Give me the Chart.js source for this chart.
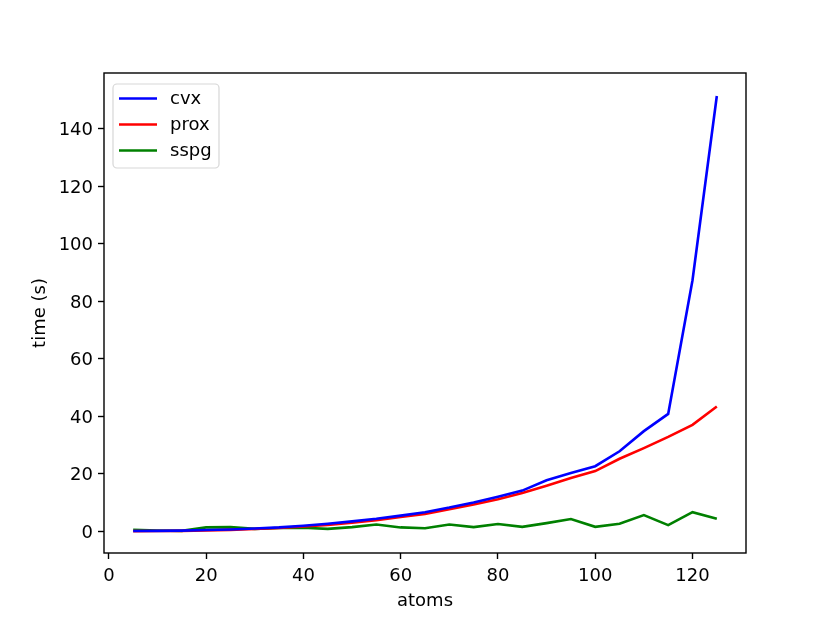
<!DOCTYPE html>
<html>
<head>
<meta charset="utf-8">
<script src="https://cdn.jsdelivr.net/npm/chart.js@4/dist/chart.umd.min.js"></script>
<style>
  html, body { margin: 0; padding: 0; background: #fff; }
  canvas { display: block; }
</style>
</head>
<body>
<canvas id="chart" width="830" height="623"></canvas>
<script>
// --- Data ---
const atoms = [5, 10, 15, 20, 25, 30, 35, 40, 45, 50, 55, 60, 65, 70, 75, 80, 85, 90, 95, 100, 105, 110, 115, 120, 125];
const cvxTimes = [0.05, 0.1, 0.2, 0.4, 0.6, 0.9, 1.3, 1.9, 2.6, 3.4, 4.3, 5.4, 6.6, 8.2, 10.0, 12.0, 14.1, 17.7, 20.2, 22.6, 27.8, 34.8, 40.8, 87.3, 151.4];
const proxTimes = [0.0, 0.05, 0.1, 0.25, 0.45, 0.75, 1.1, 1.6, 2.2, 2.9, 3.8, 4.9, 6.0, 7.6, 9.3, 11.1, 13.3, 15.8, 18.5, 20.9, 25.2, 28.9, 32.8, 37.0, 43.4];
const sspgTimes = [0.5, 0.25, 0.1, 1.3, 1.4, 0.8, 1.1, 1.2, 0.8, 1.4, 2.3, 1.3, 1.0, 2.3, 1.4, 2.5, 1.5, 2.8, 4.2, 1.5, 2.6, 5.6, 2.1, 6.6, 4.3];
const xTicks = [0, 20, 40, 60, 80, 100, 120];
const yTicks = [0, 20, 40, 60, 80, 100, 120, 140];

const FONT = 'DejaVu Sans';

function toPoints(ys) {
    return atoms.map((x, i) => ({ x: x, y: ys[i] }));
}

// --- Plugins: full frame + matplotlib style legend ---
const framePlugin = {
    id: 'frame',
    afterDatasetsDraw(chart) {
        const { ctx, chartArea: a } = chart;
        ctx.save();
        ctx.strokeStyle = '#000';
        ctx.lineWidth = 1.4;
        ctx.strokeRect(a.left, a.top, a.right - a.left, a.bottom - a.top);
        ctx.restore();
    }
};

const legendBoxPlugin = {
    id: 'legendBox',
    afterDraw(chart) {
        const { ctx, chartArea: a } = chart;
        const x = a.left + 9, y = a.top + 11, w = 106, h = 84, r = 4;
        ctx.save();
        ctx.beginPath();
        ctx.roundRect(x, y, w, h, r);
        ctx.fillStyle = 'rgba(255,255,255,0.8)';
        ctx.fill();
        ctx.strokeStyle = 'rgba(204,204,204,0.8)';
        ctx.lineWidth = 1.2;
        ctx.stroke();
        ctx.font = '18px "' + FONT + '"';
        ctx.textBaseline = 'middle';
        chart.data.datasets.forEach((ds, i) => {
            const ly = y + 14.5 + i * 26;
            ctx.beginPath();
            ctx.moveTo(x + 6, ly);
            ctx.lineTo(x + 44, ly);
            ctx.strokeStyle = ds.borderColor;
            ctx.lineWidth = ds.borderWidth;
            ctx.stroke();
            ctx.fillStyle = '#000';
            ctx.fillText(ds.label, x + 57, ly + 1);
        });
        ctx.restore();
    }
};

const ctx = document.getElementById('chart').getContext('2d');
new Chart(ctx, {
    type: 'line',
    data: {
        datasets: [
            { label: 'cvx', data: toPoints(cvxTimes), borderColor: '#0000ff', borderWidth: 2.6, pointRadius: 0, fill: false, tension: 0 },
            { label: 'prox', data: toPoints(proxTimes), borderColor: '#ff0000', borderWidth: 2.6, pointRadius: 0, fill: false, tension: 0 },
            { label: 'sspg', data: toPoints(sspgTimes), borderColor: '#008000', borderWidth: 2.6, pointRadius: 0, fill: false, tension: 0 }
        ]
    },
    options: {
        responsive: false,
        animation: false,
        devicePixelRatio: 1,
        layout: { padding: { top: 73, right: 84, left: 0, bottom: 0 } },
        plugins: { legend: { display: false }, tooltip: { enabled: false } },
        scales: {
            x: {
                type: 'linear',
                min: -1,
                max: 131,
                afterBuildTicks: scale => { scale.ticks = xTicks.map(v => ({ value: v })); },
                afterFit: scale => { scale.height = 70; },
                grid: { drawOnChartArea: false, drawTicks: true, tickLength: 6, tickWidth: 1.4, tickColor: '#000' },
                border: { display: false },
                ticks: { color: '#000', font: { family: FONT, size: 18 }, padding: 7, maxRotation: 0 },
                title: { display: true, text: 'atoms', color: '#000', font: { family: FONT, size: 18 }, padding: { top: 0, bottom: 11 } }
            },
            y: {
                type: 'linear',
                min: -7.6,
                max: 159.4,
                afterBuildTicks: scale => { scale.ticks = yTicks.map(v => ({ value: v })); },
                afterFit: scale => { scale.width = 104; },
                grid: { drawOnChartArea: false, drawTicks: true, tickLength: 6, tickWidth: 1.4, tickColor: '#000' },
                border: { display: false },
                ticks: { color: '#000', font: { family: FONT, size: 18 }, padding: 5, labelOffset: 2 },
                title: { display: true, text: 'time (s)', color: '#000', font: { family: FONT, size: 18 }, padding: { top: 30, bottom: 0 } }
            }
        }
    },
    plugins: [framePlugin, legendBoxPlugin]
});
</script>
</body>
</html>
